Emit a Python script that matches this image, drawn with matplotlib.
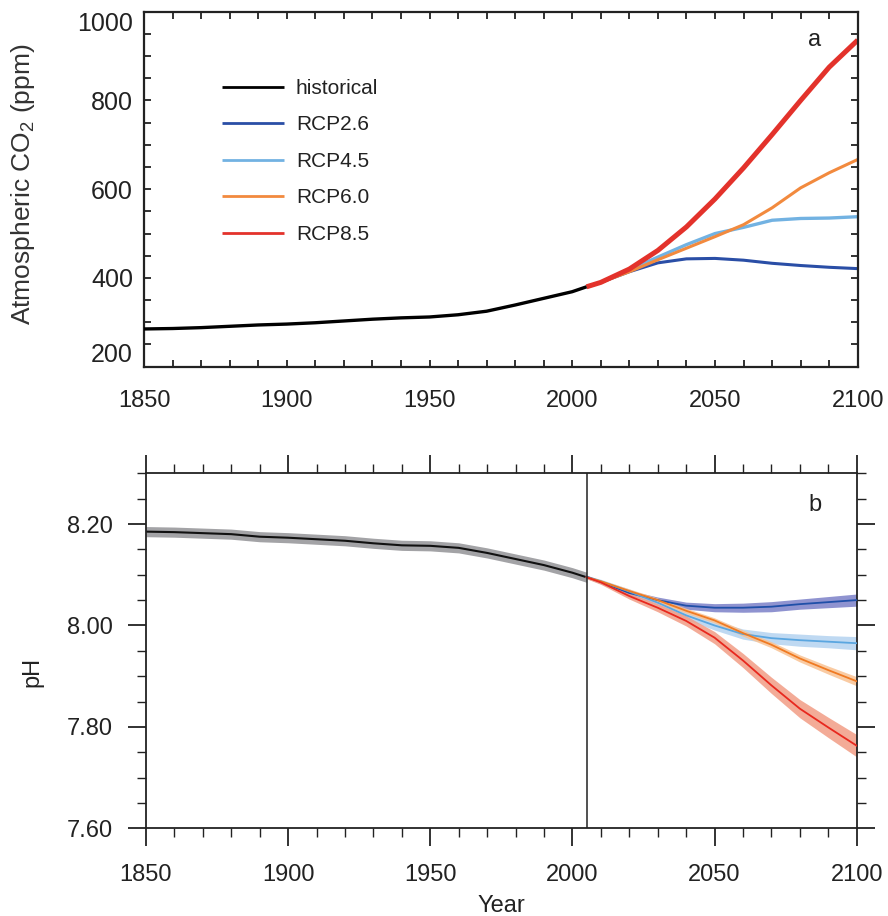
import numpy as np
import matplotlib
matplotlib.use("Agg")
import matplotlib.pyplot as plt
from matplotlib.ticker import MultipleLocator, FixedLocator, FormatStrFormatter

plt.rcParams['font.family'] = ['Liberation Sans', 'DejaVu Sans']
plt.rcParams['mathtext.fontset'] = 'custom'
plt.rcParams['mathtext.rm'] = 'Liberation Sans'
plt.rcParams['mathtext.it'] = 'Liberation Sans'

# --- panel a: atmospheric CO2 (ppm) ---
hist_years = [1850, 1860, 1870, 1880, 1890, 1900, 1910, 1920, 1930, 1940,
              1950, 1960, 1970, 1980, 1990, 2000, 2005]
hist_co2 = [285, 286, 288, 291, 294, 296, 299, 303, 307, 310,
            312, 317, 325, 339, 354, 369, 380]

rcp_years = [2005, 2010, 2020, 2030, 2040, 2050, 2060, 2070, 2080, 2090, 2100]
co2_rcp26 = [380, 390, 414, 434, 443, 444, 440, 433, 428, 424, 421]
co2_rcp45 = [380, 390, 418, 447, 475, 500, 514, 530, 534, 535, 538]
co2_rcp60 = [380, 390, 414, 441, 467, 493, 520, 558, 603, 637, 667]
co2_rcp85 = [380, 390, 420, 462, 515, 578, 648, 723, 800, 875, 936]

# --- panel b: surface ocean pH ---
hist_ph = [8.185, 8.184, 8.182, 8.180, 8.175, 8.173, 8.170, 8.167, 8.162, 8.158,
           8.157, 8.153, 8.143, 8.131, 8.119, 8.104, 8.095]
hist_ph_spread = 0.010

ph_rcp26 = [8.096, 8.086, 8.064, 8.050, 8.039, 8.035, 8.035, 8.037, 8.042, 8.046, 8.050]
ph_rcp45 = [8.095, 8.087, 8.067, 8.045, 8.020, 8.000, 7.983, 7.975, 7.971, 7.968, 7.965]
ph_rcp60 = [8.095, 8.087, 8.068, 8.050, 8.029, 8.010, 7.985, 7.962, 7.935, 7.912, 7.890]
ph_rcp85 = [8.095, 8.085, 8.058, 8.035, 8.009, 7.976, 7.931, 7.882, 7.836, 7.799, 7.763]

spread_rcp26 = [0.003, 0.004, 0.005, 0.006, 0.007, 0.008, 0.009, 0.010, 0.010, 0.011, 0.012]
spread_rcp45 = [0.003, 0.004, 0.005, 0.006, 0.008, 0.009, 0.010, 0.011, 0.012, 0.012, 0.013]
spread_rcp60 = [0.003, 0.003, 0.004, 0.004, 0.005, 0.005, 0.006, 0.006, 0.007, 0.008, 0.009]
spread_rcp85 = [0.003, 0.004, 0.006, 0.008, 0.010, 0.012, 0.014, 0.016, 0.018, 0.020, 0.022]

labels = ['RCP2.6', 'RCP4.5', 'RCP6.0', 'RCP8.5']
co2_sets = [co2_rcp26, co2_rcp45, co2_rcp60, co2_rcp85]
ph_sets = [ph_rcp26, ph_rcp45, ph_rcp60, ph_rcp85]
spread_sets = [spread_rcp26, spread_rcp45, spread_rcp60, spread_rcp85]

line_cols_a = ['#2a4ea6', '#72b2e2', '#f28a3e', '#e3322b']
line_cols_b = ['#1f4fa8', '#5aa6e0', '#f07a22', '#e8281e']
band_cols_b = ['#7b80c8', '#b4d3f0', '#f9c293', '#f29d85']

fig = plt.figure(figsize=(8.88, 9.16), dpi=100)

# ---------------- panel a ----------------
ax1 = fig.add_axes([0.1622, 0.5997, 0.8037, 0.3875])
ax1.plot(hist_years, hist_co2, color='black', lw=2.4, label='historical',
         solid_capstyle='butt', zorder=3)
lws = [2.2, 2.4, 2.2, 3.6]
for vals, col, lab, lw in zip(co2_sets, line_cols_a, labels, lws):
    ax1.plot(rcp_years, vals, color=col, lw=lw, label=lab, solid_capstyle='butt')

ax1.set_xlim(1850, 2100)
ax1.set_ylim(200, 1000)
ax1.xaxis.set_major_locator(MultipleLocator(50))
ax1.xaxis.set_minor_locator(MultipleLocator(10))
ax1.yaxis.set_major_locator(MultipleLocator(200))
ax1.yaxis.set_minor_locator(MultipleLocator(50))
ax1.tick_params(which='both', direction='in', top=True, right=True,
                length=5, width=1.3, color='#222222')
ax1.tick_params(axis='x', labelsize=17, pad=17, labelcolor='#222222')
ax1.tick_params(axis='y', labelsize=18, pad=8, labelcolor='#222222')
for lab in ax1.get_yticklabels():
    if lab.get_text() == '1000':
        lab.set_va('top')
    elif lab.get_text() == '200':
        lab.set_va('bottom')
for s in ax1.spines.values():
    s.set_linewidth(1.6)
    s.set_color('#222222')
ax1.set_ylabel('Atmospheric CO$_2$ (ppm)', fontsize=19, color='#333333')
ax1.yaxis.set_label_coords(-0.150, 0.515)
ax1.text(0.940, 0.920, 'a', transform=ax1.transAxes, fontsize=17,
         ha='center', va='center', color='#222222')
leg = ax1.legend(loc='upper left', bbox_to_anchor=(0.109, 0.811), frameon=False,
                 fontsize=15, handlelength=3.0, handletextpad=0.55,
                 labelspacing=0.84, borderpad=0, borderaxespad=0)
for h in leg.get_lines():
    h.set_linewidth(2.0)
for t in leg.get_texts():
    t.set_color('#222222')

# ---------------- panel b ----------------
ax2 = fig.add_axes([0.1644, 0.0957, 0.8003, 0.3876])
hist_arr = np.array(hist_ph)
ax2.fill_between(hist_years, hist_arr - hist_ph_spread, hist_arr + hist_ph_spread,
                 color='#a3a3a6', lw=0, zorder=1)
ax2.plot(hist_years, hist_ph, color='#111111', lw=1.5, zorder=2)

for vals, spr, lcol, bcol in zip(ph_sets, spread_sets, line_cols_b, band_cols_b):
    v = np.array(vals)
    s = np.array(spr)
    ax2.fill_between(rcp_years, v - s, v + s, color=bcol, lw=0, alpha=0.85, zorder=1)
for vals, lcol in zip(ph_sets, line_cols_b):
    ax2.plot(rcp_years, vals, color=lcol, lw=1.3, zorder=3)

ax2.axvline(2005, color='#222222', lw=1.1, zorder=4)
ax2.set_xlim(1850, 2100)
ax2.set_ylim(7.60, 8.30)
ax2.xaxis.set_major_locator(MultipleLocator(50))
ax2.xaxis.set_minor_locator(MultipleLocator(10))
ax2.yaxis.set_major_locator(FixedLocator([7.6, 7.8, 8.0, 8.2]))
ax2.yaxis.set_minor_locator(MultipleLocator(0.05))
ax2.yaxis.set_major_formatter(FormatStrFormatter('%.2f'))
ax2.tick_params(which='both', direction='out', top=True, right=True,
                width=1.3, color='#222222', labelcolor='#222222')
ax2.tick_params(which='major', length=13)
ax2.tick_params(which='minor', length=6.5, width=1.0)
ax2.tick_params(axis='x', labelsize=17, pad=13)
ax2.tick_params(axis='y', labelsize=17, pad=11)
for s in ax2.spines.values():
    s.set_linewidth(1.3)
    s.set_color('#222222')
ax2.set_ylabel('pH', fontsize=17, color='#222222')
ax2.yaxis.set_label_coords(-0.145, 0.441)
ax2.set_xlabel('Year', fontsize=17, color='#222222', labelpad=6)
ax2.text(0.941, 0.911, 'b', transform=ax2.transAxes, fontsize=17,
         ha='center', va='center', color='#222222')

fig.savefig('out.png', dpi=100)
